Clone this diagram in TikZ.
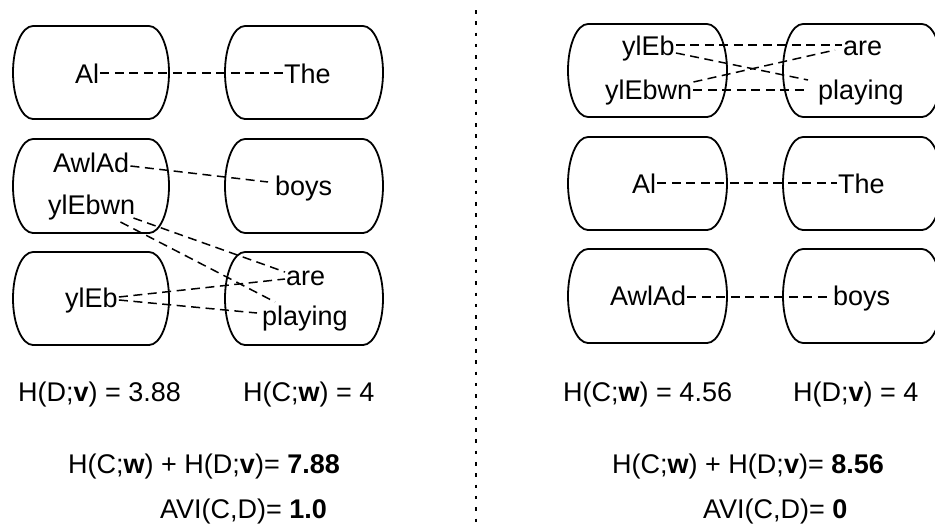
\documentclass[tikz,border=0pt]{standalone}
\usepackage{fontspec}
\setmainfont{Liberation Sans}
\usetikzlibrary{calc}
\newcommand\mycapsule[4]{%
  \pgfmathsetmacro\cym{(#2+#4)/2}%
  \pgfmathsetmacro\cry{(#4-#2)/2*0.5523}%
  \draw[boxline] ({#1+20},#2) -- ({#3-20},#2)
    .. controls ({#3-8.95},#2) and (#3,{\cym-\cry}) .. (#3,\cym)
    .. controls (#3,{\cym+\cry}) and ({#3-8.95},#4) .. ({#3-20},#4)
    -- ({#1+20},#4)
    .. controls ({#1+8.95},#4) and (#1,{\cym+\cry}) .. (#1,\cym)
    .. controls (#1,{\cym-\cry}) and ({#1+8.95},#2) .. ({#1+20},#2) -- cycle;}
\begin{document}
\begin{tikzpicture}[x=1pt,y=-1pt,
  boxline/.style={draw=black, line width=1.8pt, line join=round},
  conn/.style={draw=black, line width=1.5pt, dash pattern=on 9pt off 5.5pt},
  txt/.style={inner sep=0pt, font=\fontsize{27}{32}\selectfont, anchor=base west},
  divider/.style={draw=black, line width=2pt, dash pattern=on 3.5pt off 7.8pt}]
\useasboundingbox (0,0) rectangle (935,525);

% ---------- left boxes ----------
\mycapsule{13}{26}{169}{119}
\mycapsule{225}{26}{383}{119}
\mycapsule{13}{139}{169}{233}
\mycapsule{225}{139}{383}{233}
\mycapsule{13}{252}{169}{345}
\mycapsule{225}{252}{383}{345}

% ---------- right boxes ----------
\mycapsule{568}{24}{727}{117}
\mycapsule{783}{24}{942}{117}
\mycapsule{568}{137}{727}{230}
\mycapsule{783}{137}{942}{230}
\mycapsule{568}{249}{727}{343}
\mycapsule{783}{249}{942}{343}

% divider
\coordinate (dtop) at (476,10);
\coordinate (dbot) at (476,525);
\draw[divider] (dtop) -- (dbot);

% ---------- left words ----------
\node[txt] (LAl) at (75,83) {Al};
\node[txt] (LThe) at (284,83) {The};
\node[txt] (LAwlAd) at (53,172) {AwlAd};
\node[txt] (LylEbwn) at (48,214) {ylEbwn};
\node[txt] (Lboys) at (275,195) {boys};
\node[txt] (LylEb) at (65,307) {ylEb};
\node[txt] (Lare) at (286,285) {are};
\node[txt] (Lplaying) at (262,325) {playing};

% ---------- right words ----------
\node[txt] (RylEb) at (622,55) {ylEb};
\node[txt] (RylEbwn) at (605,99) {ylEbwn};
\node[txt] (Rare) at (843,55) {are};
\node[txt] (Rplaying) at (818,99) {playing};
\node[txt] (RAl) at (632,193) {Al};
\node[txt] (RThe) at (838,193) {The};
\node[txt] (RAwlAd) at (610,305) {AwlAd};
\node[txt] (Rboys) at (833,305) {boys};

% ---------- left connectors ----------
\draw[conn] ($(LAl.base east)+(1,-10)$) -- ($(LThe.base west)+(-1,-10)$);
\draw[conn] ($(LAwlAd.base east)+(1,-6)$) -- ($(Lboys.base west)+(-7,-13)$);
\draw[conn] ($(LylEbwn.base east)+(-2,4)$) -- ($(Lare.base west)+(-1,-13)$);
\draw[conn] ($(LylEbwn.base east)+(-15,8)$) -- ($(Lplaying.base west)+(13,-23)$);
\draw[conn] ($(LylEb.base east)+(1,-10)$) -- ($(Lare.base west)+(-1,-6)$);
\draw[conn] ($(LylEb.base east)+(1,-7)$) -- ($(Lplaying.base west)+(-5,-12)$);

% ---------- right connectors ----------
\draw[conn] ($(RylEb.base east)+(1,-10)$) -- ($(Rare.base west)+(-1,-10)$);
\draw[conn] ($(RylEb.base east)+(1,-2)$) -- ($(Rplaying.base west)+(-10,-19)$);
\draw[conn] ($(RylEbwn.base east)+(1,-17)$) -- ($(Rare.base west)+(-8,-5)$);
\draw[conn] ($(RylEbwn.base east)+(1,-9)$) -- ($(Rplaying.base west)+(-11,-9)$);
\draw[conn] ($(RAl.base east)+(1,-10)$) -- ($(RThe.base west)+(-1,-10)$);
\draw[conn] ($(RAwlAd.base east)+(1,-8)$) -- ($(Rboys.base west)+(-1,-8)$);

% ---------- bottom formulas ----------
\node[txt] (LHD) at (18,401) {H(D;\textbf{v}) = 3.88};
\node[txt] (LHC) at (243,401) {H(C;\textbf{w}) = 4};
\node[txt] (Lsum) at (68,473) {H(C;\textbf{w}) + H(D;\textbf{v})= \textbf{7.88}};
\node[txt] (Lavi) at (160,518) {AVI(C,D)= \textbf{1.0}};
\node[txt] (RHC) at (563,401) {H(C;\textbf{w}) = 4.56};
\node[txt] (RHD) at (793,401) {H(D;\textbf{v}) = 4};
\node[txt] (Rsum) at (612,473) {H(C;\textbf{w}) + H(D;\textbf{v})= \textbf{8.56}};
\node[txt] (Ravi) at (703,518) {AVI(C,D)= \textbf{0}};
\end{tikzpicture}
\end{document}
